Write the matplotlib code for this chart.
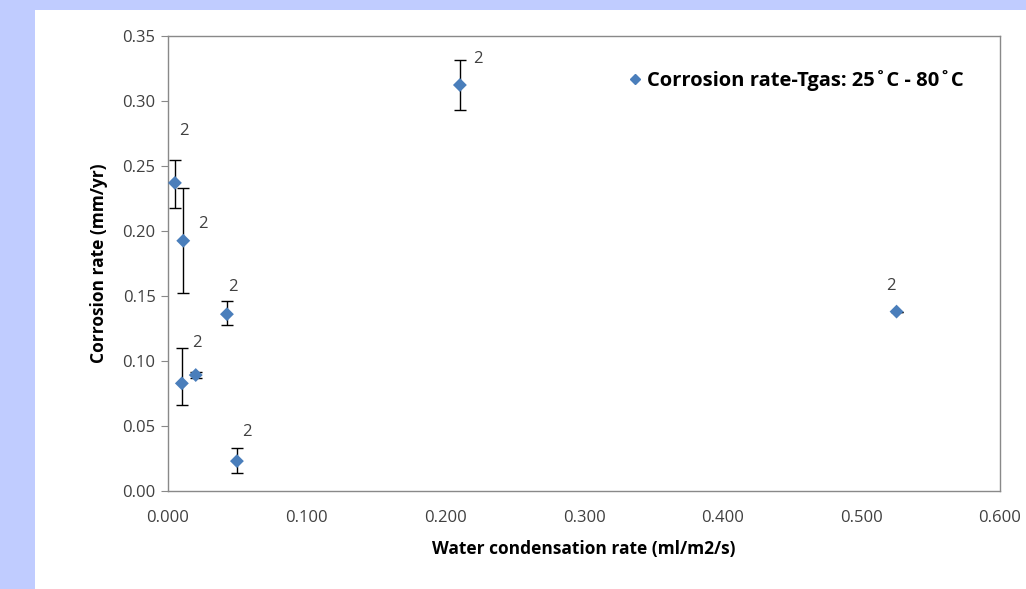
import matplotlib
matplotlib.use("Agg")
import matplotlib.pyplot as plt
from matplotlib.lines import Line2D

# Data
condensation_rate = [0.005, 0.011, 0.0425, 0.010, 0.020, 0.0497, 0.2105, 0.5254]
corrosion_rate = [0.237, 0.1925, 0.136, 0.0828, 0.0892, 0.023, 0.3123, 0.138]
err_low = [0.019, 0.0405, 0.008, 0.0168, 0.002, 0.0094, 0.019, 0.0]
err_high = [0.018, 0.0405, 0.010, 0.027, 0.002, 0.0098, 0.019, 0.0]
point_labels = ["2", "2", "2", "2", "", "2", "2", "2"]
# label offsets in pixels (dx, dy)
label_offsets = [(9, 52), (20, 17), (6, 27), (15, 40), (0, 0), (10, 29), (18, 26), (-6, 26)]

x_ticks = [0.0, 0.1, 0.2, 0.3, 0.4, 0.5, 0.6]
y_ticks = [0.0, 0.05, 0.10, 0.15, 0.20, 0.25, 0.30, 0.35]
legend_label = "Corrosion rate-Tgas: 25˚C - 80˚C"

plt.rcParams['font.family'] = ['Open Sans', 'DejaVu Sans']

fig = plt.figure(figsize=(10.26, 5.89), dpi=100)
fig.patch.set_facecolor('#c0ccff')
# white chart area
fig.add_artist(plt.Rectangle((35/1026, 0), 1 - 35/1026, 1 - 10/589,
                             transform=fig.transFigure, facecolor='white',
                             edgecolor='none', zorder=0))

ax = fig.add_axes([168/1026, (589-491)/589, (1000-168)/1026, (491-36)/589])
ax.set_facecolor('white')

gray = '#898989'
for s in ax.spines.values():
    s.set_color(gray)
    s.set_linewidth(1)

ax.errorbar(condensation_rate, corrosion_rate, yerr=[err_low, err_high],
            fmt='none', ecolor='black', elinewidth=1, capsize=4, capthick=1, zorder=2)
ax.scatter(condensation_rate, corrosion_rate, marker='D', s=50, color='#4a7ebb',
           edgecolors='none', zorder=3)

for x, y, lab, (dx, dy) in zip(condensation_rate, corrosion_rate, point_labels, label_offsets):
    if lab:
        ax.annotate(lab, (x, y), xytext=(dx * 0.72, dy * 0.72), textcoords='offset points',
                    ha='center', va='center', fontsize=12, color='#404040')

ax.set_xlim(0, 0.6)
ax.set_ylim(0, 0.35)
ax.set_xticks(x_ticks)
ax.set_xticklabels([f"{v:.3f}" for v in x_ticks])
ax.set_yticks(y_ticks)
ax.set_yticklabels([f"{v:.2f}" for v in y_ticks])
ax.tick_params(axis='y', direction='out', length=5, color=gray, labelsize=12,
               labelcolor='#404040', pad=4)
ax.tick_params(axis='x', direction='out', length=0, labelsize=12,
               labelcolor='#404040', pad=14)

ax.set_xlabel("Water condensation rate (ml/m2/s)", fontsize=12.5, fontweight='bold',
              labelpad=10)
ax.set_ylabel("Corrosion rate (mm/yr)", fontsize=12.5, fontweight='bold', labelpad=10)

handle = Line2D([], [], marker='D', color='#4a7ebb', linestyle='none', markersize=5.5)
ax.legend([handle], [legend_label], loc='upper right', bbox_to_anchor=(0.978, 0.965),
          frameon=False, prop={'size': 14.5, 'weight': 'bold'}, handletextpad=0.1,
          handlelength=1.0)

fig.savefig("out.png", dpi=100)
